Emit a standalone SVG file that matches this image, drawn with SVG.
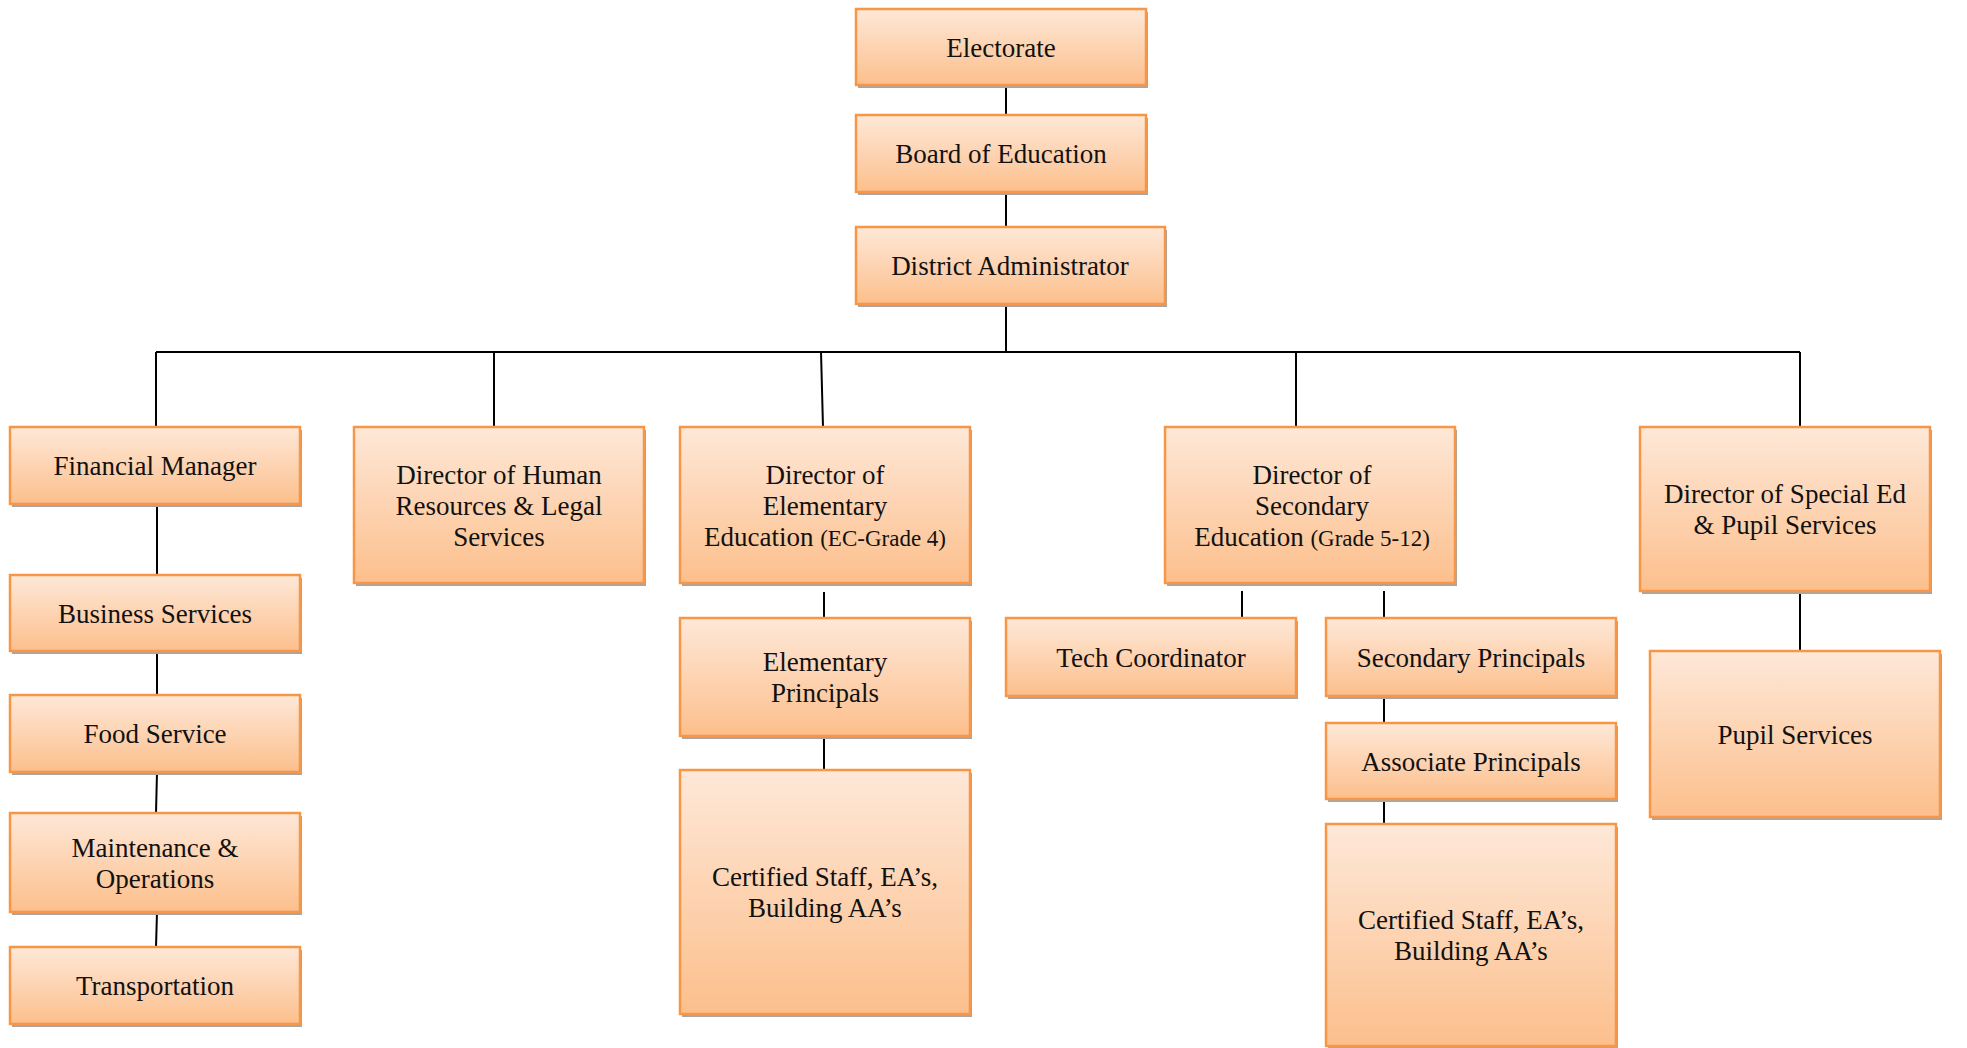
<svg xmlns="http://www.w3.org/2000/svg" width="1967" height="1048" viewBox="0 0 1967 1048">
<defs>
<linearGradient id="g" x1="0" y1="0" x2="0" y2="1">
<stop offset="0" stop-color="#fee8d8"/>
<stop offset="1" stop-color="#fcbf8c"/>
</linearGradient>
<style>
.sh{fill:#a6a6a6}
.bx{fill:url(#g);stroke:#f79646;stroke-width:2.5}
text{font-family:"Liberation Serif","Times New Roman",serif;font-size:27px;fill:#111;text-anchor:middle}
.sm{font-size:23px}
.ln{stroke:#000;stroke-width:2;fill:none}
</style>
</defs>
<rect width="1967" height="1048" fill="#fff"/>
<g id="connectors" class="ln">
<path d="M1006 85V115M1006 192V227M1006 304V352"/>
<path d="M156 352H1800"/>
<path d="M156 352V427M494 352V427M821 352L823 427M1296 352V427M1800 352V427"/>
<path d="M157 504V575M157 651V695M157 772L156 813M157 912L156 947"/>
<path d="M824 592V618M824 736V770"/>
<path d="M1242 591V618M1384 591V618M1384 696V723M1384 799V824"/>
<path d="M1800 591V651"/>
</g>
<g id="electorate"><rect class="sh" x="858" y="12" width="290" height="76"/><rect class="bx" x="856" y="9" width="290" height="76"/><text x="1001" y="56.5">Electorate</text></g>
<g id="board"><rect class="sh" x="858" y="118" width="290" height="77"/><rect class="bx" x="856" y="115" width="290" height="77"/><text x="1001" y="163">Board of Education</text></g>
<g id="district"><rect class="sh" x="858" y="230" width="309" height="77"/><rect class="bx" x="856" y="227" width="309" height="77"/><text x="1010" y="275">District Administrator</text></g>
<g id="financial"><rect class="sh" x="12" y="430" width="290" height="77"/><rect class="bx" x="10" y="427" width="290" height="77"/><text x="155" y="475">Financial Manager</text></g>
<g id="business"><rect class="sh" x="12" y="578" width="290" height="76"/><rect class="bx" x="10" y="575" width="290" height="76"/><text x="155" y="622.5">Business Services</text></g>
<g id="food"><rect class="sh" x="12" y="698" width="290" height="77"/><rect class="bx" x="10" y="695" width="290" height="77"/><text x="155" y="743">Food Service</text></g>
<g id="maintenance"><rect class="sh" x="12" y="816" width="290" height="99"/><rect class="bx" x="10" y="813" width="290" height="99"/><text x="155" y="856.5">Maintenance &amp;</text><text x="155" y="887.5">Operations</text></g>
<g id="transportation"><rect class="sh" x="12" y="950" width="290" height="77"/><rect class="bx" x="10" y="947" width="290" height="77"/><text x="155" y="995">Transportation</text></g>
<g id="hr"><rect class="sh" x="356" y="430" width="290" height="156"/><rect class="bx" x="354" y="427" width="290" height="156"/><text x="499" y="483.5">Director of Human</text><text x="499" y="514.5">Resources &amp; Legal</text><text x="499" y="545.5">Services</text></g>
<g id="elementary"><rect class="sh" x="682" y="430" width="290" height="156"/><rect class="bx" x="680" y="427" width="290" height="156"/><text x="825" y="483.5">Director of</text><text x="825" y="514.5">Elementary</text><text x="825" y="545.5">Education <tspan class="sm">(EC-Grade 4)</tspan></text></g>
<g id="elem-principals"><rect class="sh" x="682" y="621" width="290" height="118"/><rect class="bx" x="680" y="618" width="290" height="118"/><text x="825" y="671">Elementary</text><text x="825" y="702">Principals</text></g>
<g id="elem-staff"><rect class="sh" x="682" y="773" width="290" height="244"/><rect class="bx" x="680" y="770" width="290" height="244"/><text x="825" y="886">Certified Staff, EA’s,</text><text x="825" y="917">Building AA’s</text></g>
<g id="secondary"><rect class="sh" x="1167" y="430" width="290" height="156"/><rect class="bx" x="1165" y="427" width="290" height="156"/><text x="1312" y="483.5">Director of</text><text x="1312" y="514.5">Secondary</text><text x="1312" y="545.5">Education <tspan class="sm">(Grade 5-12)</tspan></text></g>
<g id="tech"><rect class="sh" x="1008" y="621" width="290" height="78"/><rect class="bx" x="1006" y="618" width="290" height="78"/><text x="1151" y="666.5">Tech Coordinator</text></g>
<g id="sec-principals"><rect class="sh" x="1328" y="621" width="290" height="78"/><rect class="bx" x="1326" y="618" width="290" height="78"/><text x="1471" y="666.5">Secondary Principals</text></g>
<g id="assoc-principals"><rect class="sh" x="1328" y="726" width="290" height="76"/><rect class="bx" x="1326" y="723" width="290" height="76"/><text x="1471" y="770.5">Associate Principals</text></g>
<g id="sec-staff"><rect class="sh" x="1328" y="827" width="290" height="222"/><rect class="bx" x="1326" y="824" width="290" height="222"/><text x="1471" y="929">Certified Staff, EA’s,</text><text x="1471" y="960">Building AA’s</text></g>
<g id="special"><rect class="sh" x="1642" y="430" width="290" height="164"/><rect class="bx" x="1640" y="427" width="290" height="164"/><text x="1785" y="503">Director of Special Ed</text><text x="1785" y="534">&amp; Pupil Services</text></g>
<g id="pupil"><rect class="sh" x="1652" y="654" width="290" height="166"/><rect class="bx" x="1650" y="651" width="290" height="166"/><text x="1795" y="743.5">Pupil Services</text></g>
</svg>
